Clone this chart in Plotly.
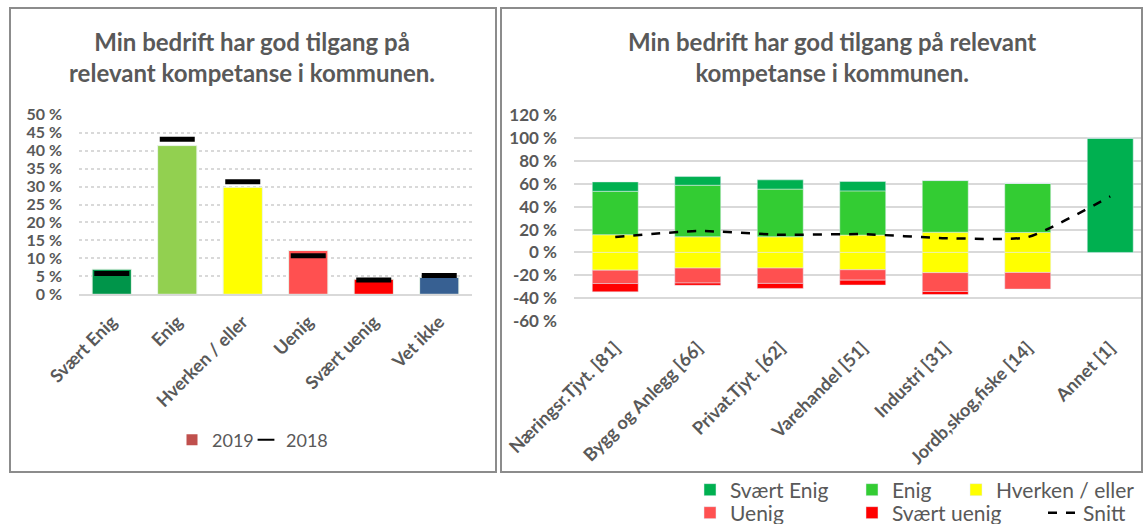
import plotly.graph_objects as go

# venstre diagram: fordeling 2019 og 2018
svar = ["Svært Enig", "Enig", "Hverken / eller", "Uenig", "Svært uenig", "Vet ikke"]
andel_2019 = [7.0, 41.4, 29.8, 12.2, 4.2, 4.7]
andel_2018 = [5.8, 43.2, 31.3, 10.7, 4.0, 5.2]
svar_farger = ["#00954A", "#92D050", "#FFFF00", "#FF5050", "#FF0000", "#376092"]
venstre_ticks = [0, 5, 10, 15, 20, 25, 30, 35, 40, 45, 50]
venstre_ticktekst = ["0 %", "5 %", "10 %", "15 %", "20 %", "25 %", "30 %", "35 %", "40 %", "45 %", "50 %"]

# høyre diagram: per bransje
bransjer = ["Næringsr.Tjyt. [81]", "Bygg og Anlegg [66]", "Privat.Tjyt. [62]", "Varehandel [51]",
            "Industri [31]", "Jordb,skog,fiske [14]", "Annet [1]"]
svaert_enig = [8.2, 7.6, 8.1, 8.2, 0.0, 0.0, 100.0]
enig = [38.0, 45.1, 41.7, 38.7, 45.2, 43.0, 0.0]
hverken = [31.0, 27.4, 27.4, 30.3, 35.4, 35.0, 0.0]
uenig = [11.7, 13.1, 13.4, 9.1, 16.5, 14.6, 0.0]
svaert_uenig = [7.3, 2.0, 4.4, 4.3, 2.6, 0.0, 0.0]
snitt = [13.4, 18.8, 15.4, 16.0, 12.5, 13.4, 49.0]
hoyre_ticks = [-60, -40, -20, 0, 20, 40, 60, 80, 100, 120]
hoyre_ticktekst = ["-60 %", "-40 %", "-20 %", "0 %", "20 %", "40 %", "60 %", "80 %", "100 %", "120 %"]

W, H = 1145, 524
GRAA = "#595959"
FONT = "Lato"


def px_x(p):
    return p / W


def px_y(p):
    return 1 - p / H


def legende(x, y, size, **kw):
    # én legende per oppføring, plassert etter pikselposisjon
    return dict(orientation="h", x=px_x(x), xanchor="left", y=px_y(y), yanchor="middle",
                font=dict(family=FONT, size=size, color=GRAA), bgcolor="rgba(0,0,0,0)",
                itemwidth=30, traceorder="normal", **kw)


fig = go.Figure()

# --- venstre ---
fig.add_trace(go.Bar(
    x=svar, y=andel_2019, marker=dict(color=svar_farger, line=dict(color="#EAF5EA", width=1)),
    width=0.6, showlegend=False, xaxis="x", yaxis="y", hoverinfo="y"))
fig.add_trace(go.Scatter(
    x=[None], y=[None], mode="markers", name="2019",
    marker=dict(symbol="square", color="#C0504D", size=11), legend="legend"))
fig.add_trace(go.Scatter(
    x=svar, y=andel_2018, mode="markers", name="2018",
    marker=dict(symbol="line-ew", size=25, line=dict(color="black", width=5)),
    xaxis="x", yaxis="y", legend="legend2"))

# --- høyre (divergerende stabel) ---
halv = [h / 2 for h in hverken]
neg = lambda v: [-a for a in v]
bw = 0.557
fig.add_trace(go.Bar(x=bransjer, y=halv, name="Hverken / eller", marker_color="#FFFF00",
                     width=bw, xaxis="x2", yaxis="y2", legend="legend5"))
fig.add_trace(go.Bar(x=bransjer, y=neg(halv), name="Hverken / eller", marker_color="#FFFF00",
                     width=bw, xaxis="x2", yaxis="y2", showlegend=False))
fig.add_trace(go.Bar(x=bransjer, y=enig, name="Enig", marker_color="#33CC33",
                     width=bw, xaxis="x2", yaxis="y2", legend="legend4"))
fig.add_trace(go.Bar(x=bransjer, y=neg(uenig), name="Uenig", marker_color="#FF5050",
                     width=bw, xaxis="x2", yaxis="y2", legend="legend6"))
fig.add_trace(go.Bar(x=bransjer, y=svaert_enig, name="Svært Enig", marker_color="#00B050",
                     width=bw, xaxis="x2", yaxis="y2", legend="legend3"))
fig.add_trace(go.Bar(x=bransjer, y=neg(svaert_uenig), name="Svært uenig", marker_color="#FF0000",
                     width=bw, xaxis="x2", yaxis="y2", legend="legend7"))
fig.add_trace(go.Scatter(x=bransjer, y=snitt, name="Snitt", mode="lines", line_shape="spline",
                         line=dict(color="black", width=2.5, dash="dash", smoothing=0.5),
                         xaxis="x2", yaxis="y2", legend="legend8"))

fet = lambda s: dict(family=FONT, size=s, color=GRAA, weight="bold")

fig.update_layout(
    width=W, height=H, margin=dict(l=0, r=0, t=0, b=0, autoexpand=False),
    paper_bgcolor="white", plot_bgcolor="white",
    barmode="relative",
    font=dict(family=FONT, color=GRAA),
    xaxis=dict(domain=[px_x(79), px_x(472)], range=[-0.5, 5.5], tickangle=-45,
               tickfont=fet(18), showgrid=False, showline=True, linecolor="#D9D9D9",
               linewidth=2, ticks="", automargin=False, ticklabelstandoff=8),
    yaxis=dict(domain=[px_y(294.3), px_y(114.7)], range=[0, 50], tickvals=venstre_ticks,
               ticktext=venstre_ticktekst, tickfont=fet(16), showgrid=True,
               gridcolor="#D9D9D9", gridwidth=2, griddash="dot", zeroline=False,
               ticklabelstandoff=16, showline=False, automargin=False),
    xaxis2=dict(domain=[px_x(574), px_x(1142)], range=[-0.5, 6.385], tickangle=-45,
                tickfont=fet(18), showgrid=False, showline=False, ticks="", anchor="y2",
                automargin=False, ticklabelstandoff=12),
    yaxis2=dict(domain=[px_y(321), px_y(115.3)], range=[-60, 120], tickvals=hoyre_ticks,
                ticktext=hoyre_ticktekst, tickfont=fet(17), showgrid=True,
                gridcolor="#D9D9D9", gridwidth=2, zeroline=True, zerolinecolor="#D9D9D9",
                zerolinewidth=2, anchor="x2", ticklabelstandoff=16, automargin=False),
    legend=legende(172, 440, 18),
    legend2=legende(246, 440, 18, itemsizing="constant"),
    legend3=legende(690, 490, 21),
    legend4=legende(852, 490, 21),
    legend5=legende(956, 490, 21),
    legend6=legende(690, 513, 21),
    legend7=legende(852, 513, 21),
    legend8=legende(1043, 513, 21),
    showlegend=True,
)

# rammer rundt panelene
for x0, x1 in [(10, 496), (501, 1142)]:
    fig.add_shape(type="rect", xref="paper", yref="paper", x0=px_x(x0), x1=px_x(x1),
                  y0=px_y(472), y1=px_y(8), line=dict(color="#8C8C8C", width=2))

titler = [
    (252, "Min bedrift har god tilgang på<br>relevant kompetanse i kommunen."),
    (832, "Min bedrift har god tilgang på relevant<br>kompetanse i kommunen."),
]
for cx, tekst in titler:
    fig.add_annotation(text=tekst, xref="paper", yref="paper", x=px_x(cx), y=px_y(57),
                       xanchor="center", yanchor="middle", showarrow=False,
                       font=fet(24))

fig.write_html("out.html", config={"displayModeBar": False},
               post_script="document.body.style.margin='0';document.body.style.overflow='hidden';")
